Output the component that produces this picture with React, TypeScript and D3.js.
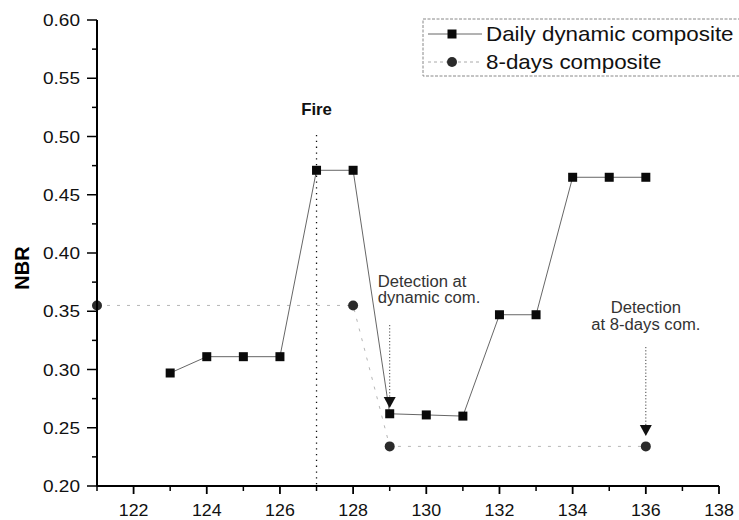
import React, { useEffect, useRef } from 'react';
import * as d3 from 'd3';

// daily dynamic composite (day of year -> NBR)
const dailyDays = [123, 124, 125, 126, 127, 128, 129, 130, 131, 132, 133, 134, 135, 136];
const dailyNbr = [0.297, 0.311, 0.311, 0.311, 0.471, 0.471, 0.262, 0.261, 0.260, 0.347, 0.347, 0.465, 0.465, 0.465];

// 8-days composite
const eightDays = [121, 128, 129, 136];
const eightNbr = [0.355, 0.355, 0.234, 0.234];

const xTicks = [122, 124, 126, 128, 130, 132, 134, 136, 138];
const yTicks = [0.2, 0.25, 0.3, 0.35, 0.4, 0.45, 0.5, 0.55, 0.6];

const fireDay = 127;
const dynDetectDay = 129;
const eightDetectDay = 136;

const App = () => {
  const svgRef = useRef<SVGSVGElement | null>(null);

  useEffect(() => {
    const svg = d3.select(svgRef.current);
    svg.selectAll('*').remove();

    const font = '"Liberation Sans", Arial, sans-serif';
    const x = d3.scaleLinear().domain([121, 138]).range([97, 719]);
    const y = d3.scaleLinear().domain([0.2, 0.6]).range([486, 20]);

    // text a bit stretched sideways, like the scanned original
    const txt = (px: number, py: number, s: string, size: number, sx: number,
                 anchor = 'start', weight = 'normal', fill = '#111') =>
      svg.append('text')
        .attr('transform', `translate(${px},${py}) scale(${sx},1)`)
        .attr('text-anchor', anchor)
        .attr('fill', fill)
        .style('font-family', font).style('font-size', `${size}px`).style('font-weight', weight)
        .text(s);

    // fire line
    svg.append('line')
      .attr('x1', x(fireDay)).attr('x2', x(fireDay))
      .attr('y1', 135).attr('y2', y(0.2))
      .attr('stroke', '#111').attr('stroke-width', 1.3)
      .attr('stroke-dasharray', '1.3,4.5');
    txt(x(fireDay), 115, 'Fire', 16, 1.05, 'middle', 'bold');

    // 8-days series line
    const eightData = eightDays.map((d, i) => [d, eightNbr[i]] as [number, number]);
    svg.append('path')
      .datum(eightData)
      .attr('d', d3.line<[number, number]>().x(d => x(d[0])).y(d => y(d[1])))
      .attr('fill', 'none')
      .attr('stroke', '#b5b5b5').attr('stroke-width', 1)
      .attr('stroke-dasharray', '3,7');

    // daily series line
    const dailyData = dailyDays.map((d, i) => [d, dailyNbr[i]] as [number, number]);
    svg.append('path')
      .datum(dailyData)
      .attr('d', d3.line<[number, number]>().x(d => x(d[0])).y(d => y(d[1])))
      .attr('fill', 'none')
      .attr('stroke', '#555').attr('stroke-width', 0.9);

    svg.selectAll('rect.daily')
      .data(dailyData)
      .enter()
      .append('rect')
      .attr('class', 'daily')
      .attr('x', d => x(d[0]) - 4.5)
      .attr('y', d => y(d[1]) - 4.5)
      .attr('width', 9).attr('height', 9)
      .attr('fill', '#0a0a0a');

    svg.selectAll('circle.eight')
      .data(eightData)
      .enter()
      .append('circle')
      .attr('class', 'eight')
      .attr('cx', d => x(d[0]))
      .attr('cy', d => y(d[1]))
      .attr('r', 5)
      .attr('fill', '#2b2b2b');

    // detection arrows
    const arrow = (day: number, yTop: number, yTip: number) => {
      const cx = x(day);
      svg.append('line')
        .attr('x1', cx).attr('x2', cx)
        .attr('y1', yTop).attr('y2', yTip - 10)
        .attr('stroke', '#444').attr('stroke-width', 1)
        .attr('stroke-dasharray', '1.2,2');
      svg.append('path')
        .attr('d', `M${cx - 6},${yTip - 11}L${cx + 6},${yTip - 11}L${cx},${yTip}Z`)
        .attr('fill', '#111');
    };
    arrow(dynDetectDay, 325, 408);
    arrow(eightDetectDay, 347, 436);

    txt(x(dynDetectDay) - 12, 287, 'Detection at', 16, 1.04, 'start', 'normal', '#333');
    txt(x(dynDetectDay) - 12, 303, 'dynamic com.', 16, 1.04, 'start', 'normal', '#333');
    txt(x(eightDetectDay), 313, 'Detection', 16, 1.04, 'middle', 'normal', '#333');
    txt(x(eightDetectDay), 330, 'at 8-days com.', 16, 1.04, 'middle', 'normal', '#333');

    // axes
    const axisG = svg.append('g').attr('stroke', '#000');
    axisG.append('line')
      .attr('x1', x(121)).attr('x2', x(121)).attr('y1', y(0.6)).attr('y2', y(0.2))
      .attr('stroke-width', 2);
    axisG.append('line')
      .attr('x1', x(121)).attr('x2', x(138)).attr('y1', y(0.2)).attr('y2', y(0.2))
      .attr('stroke-width', 2);

    yTicks.forEach(v => {
      axisG.append('line').attr('x1', x(121) - 10).attr('x2', x(121)).attr('y1', y(v)).attr('y2', y(v)).attr('stroke-width', 1.5);
    });
    d3.range(0.225, 0.6, 0.05).forEach(v => {
      axisG.append('line').attr('x1', x(121) - 5).attr('x2', x(121)).attr('y1', y(v)).attr('y2', y(v)).attr('stroke-width', 1.5);
    });
    xTicks.forEach(v => {
      axisG.append('line').attr('x1', x(v)).attr('x2', x(v)).attr('y1', y(0.2)).attr('y2', y(0.2) + 8).attr('stroke-width', 1.8);
    });
    d3.range(121, 138, 2).forEach(v => {
      axisG.append('line').attr('x1', x(v)).attr('x2', x(v)).attr('y1', y(0.2)).attr('y2', y(0.2) + 5).attr('stroke-width', 1.5);
    });

    yTicks.forEach(v => {
      txt(80, y(v) + 6, d3.format('.2f')(v), 17, 1.12, 'end');
    });
    xTicks.forEach(v => {
      txt(x(v), 516, String(v), 16.5, 1.08, 'middle');
    });

    svg.append('text')
      .attr('transform', 'translate(29,268) rotate(-90)')
      .attr('text-anchor', 'middle')
      .style('font-family', font).style('font-size', '20px').style('font-weight', 'bold')
      .text('NBR');

    // legend
    const lg = svg.append('g');
    lg.append('rect')
      .attr('x', 423).attr('y', 19).attr('width', 330).attr('height', 57)
      .attr('fill', '#fff').attr('stroke', '#888').attr('stroke-width', 1)
      .attr('stroke-dasharray', '3,1.5');
    lg.append('line').attr('x1', 428).attr('x2', 482).attr('y1', 34).attr('y2', 34)
      .attr('stroke', '#555').attr('stroke-width', 0.9);
    lg.append('rect').attr('x', 447.5).attr('y', 29.5).attr('width', 9).attr('height', 9).attr('fill', '#0a0a0a');
    lg.append('line').attr('x1', 428).attr('x2', 482).attr('y1', 62).attr('y2', 62)
      .attr('stroke', '#aaa').attr('stroke-width', 1).attr('stroke-dasharray', '3,3');
    lg.append('circle').attr('cx', 452).attr('cy', 62).attr('r', 5).attr('fill', '#2b2b2b');
    txt(486, 41, 'Daily dynamic composite', 20, 1.12);
    txt(486, 69, '8-days composite', 20, 1.12);
  }, []);

  return (
    <svg ref={svgRef} width={739} height={520}
      style={{ position: 'absolute', left: 0, top: 0, background: '#fff' }} />
  );
};

export default App;
